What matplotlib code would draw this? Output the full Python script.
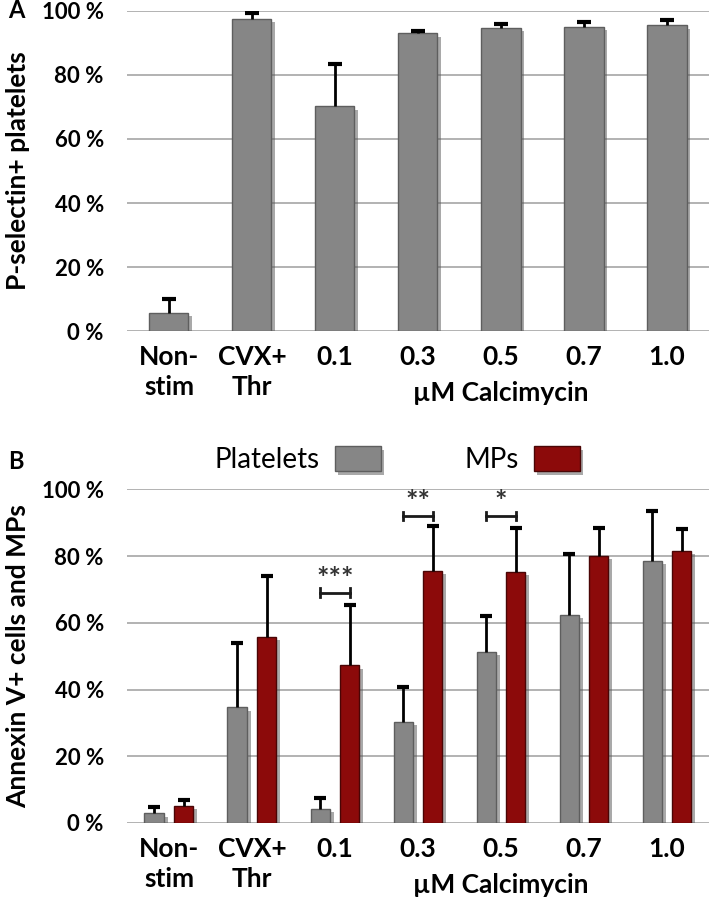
import numpy as np
import matplotlib.pyplot as plt
import matplotlib.patheffects as pe
from matplotlib.patches import Patch

plt.rcParams['font.family'] = ['Lato', 'DejaVu Sans']

# data
labels = ['Non-\nstim', 'CVX+\nThr', '0.1', '0.3', '0.5', '0.7', '1.0']
psel = [5.7, 97.5, 70.3, 93.1, 94.7, 95.0, 95.6]
psel_err = [4.3, 1.8, 13.1, 0.6, 1.2, 1.6, 1.6]

plt_vals = [2.9, 34.7, 4.3, 30.4, 51.3, 62.4, 78.6]
plt_err = [1.8, 19.2, 3.2, 10.3, 10.8, 18.3, 15.0]
mp_vals = [5.1, 55.8, 47.3, 75.6, 75.3, 80.1, 81.6]
mp_err = [1.9, 18.2, 18.1, 13.5, 13.2, 8.4, 6.6]

sig_pos = [2, 3, 4]
sig_y = [69, 92, 92]
sig_txt = ['***', '**', '*']

GRAY = '#868686'
RED = '#8c0a0a'
shadow = [pe.SimplePatchShadow(offset=(2.5, -2.5), shadow_rgbFace='#555555',
                               alpha=0.5), pe.Normal()]

fig = plt.figure(figsize=(7.09, 9.0), dpi=100)
axA = fig.add_axes([0.1798, 0.6322, 0.8195, 0.3556])
axB = fig.add_axes([0.1798, 0.0856, 0.8195, 0.3706])

x = np.arange(len(labels))


def upper_err(ax, xs, vals, errs, cap):
    # one-sided error bars: stem plus a cap on top only
    tops = np.array(vals) + np.array(errs)
    ax.vlines(xs, vals, tops, color='black', lw=2, zorder=3)
    ax.plot(xs, tops, ls='none', marker='_', ms=cap, mew=3, color='black',
            zorder=3)


def style(ax, ylabel):
    ax.set_xlim(-0.5, 6.5)
    ax.set_ylim(0, 100)
    ax.set_yticks(np.arange(0, 101, 20))
    ax.set_yticklabels(['%d %%' % v for v in range(0, 101, 20)],
                       fontsize=16, fontweight='bold')
    ax.yaxis.grid(True, color='#a6a6a6', linewidth=1.2)
    ax.set_axisbelow(True)
    for s in ax.spines.values():
        s.set_visible(False)
    ax.tick_params(axis='y', length=0, pad=17)
    ax.tick_params(axis='x', length=0, pad=10)
    ax.set_xticks(x)
    ax.set_xticklabels(labels, fontsize=19, fontweight='bold', linespacing=1.3)
    ax.annotate('µM Calcimycin', xy=(4, 0), xycoords=('data', 'axes fraction'),
                xytext=(0, -70), textcoords='offset pixels',
                ha='center', va='baseline', fontsize=19, fontweight='bold')
    ax.set_ylabel(ylabel, fontsize=19, fontweight='bold')
    ax.yaxis.set_label_coords(-0.168, 0.5)


# panel A
bars = axA.bar(x, psel, width=0.47, color=GRAY, edgecolor='#5e5e5e', linewidth=1)
for b in bars:
    b.set_path_effects(shadow)
upper_err(axA, x, psel, psel_err, 10)
style(axA, 'P-selectin+ platelets')

# panel B
off = 0.175
w = 0.24
b1 = axB.bar(x - off, plt_vals, width=w, color=GRAY, edgecolor='#5e5e5e',
             linewidth=1, label='Platelets')
b2 = axB.bar(x + off, mp_vals, width=w, color=RED, edgecolor='#4a0505',
             linewidth=1, label='MPs')
for b in list(b1) + list(b2):
    b.set_path_effects(shadow)
upper_err(axB, x - off, plt_vals, plt_err, 8)
upper_err(axB, x + off, mp_vals, mp_err, 8)
style(axB, 'Annexin V+ cells and MPs')

for p, yv, t in zip(sig_pos, sig_y, sig_txt):
    axB.plot([p - off, p + off], [yv, yv], color='#1a1a1a', lw=2)
    for xe in (p - off, p + off):
        axB.plot([xe, xe], [yv - 1.3, yv + 1.3], color='#1a1a1a', lw=2)
    axB.text(p, yv + 0.2, t, ha='center', va='bottom', fontsize=21,
             fontweight='bold', color='#333333')

handles = [Patch(facecolor=GRAY, edgecolor='#5e5e5e', label='Platelets'),
           Patch(facecolor=RED, edgecolor='#4a0505', label='MPs')]
leg = fig.legend(handles=handles, loc='center', bbox_to_anchor=(0.56, 0.489),
                 ncol=2, markerfirst=False, frameon=False, fontsize=20,
                 handlelength=1.65, handleheight=1.0, handletextpad=0.55,
                 columnspacing=3.0)
for h in leg.legend_handles:
    h.set_path_effects(shadow)

fig.text(0.012, 0.988, 'A', fontsize=17, fontweight='bold', va='center')
fig.text(0.012, 0.487, 'B', fontsize=17, fontweight='bold', va='center')

fig.savefig('out.png', dpi=100)
